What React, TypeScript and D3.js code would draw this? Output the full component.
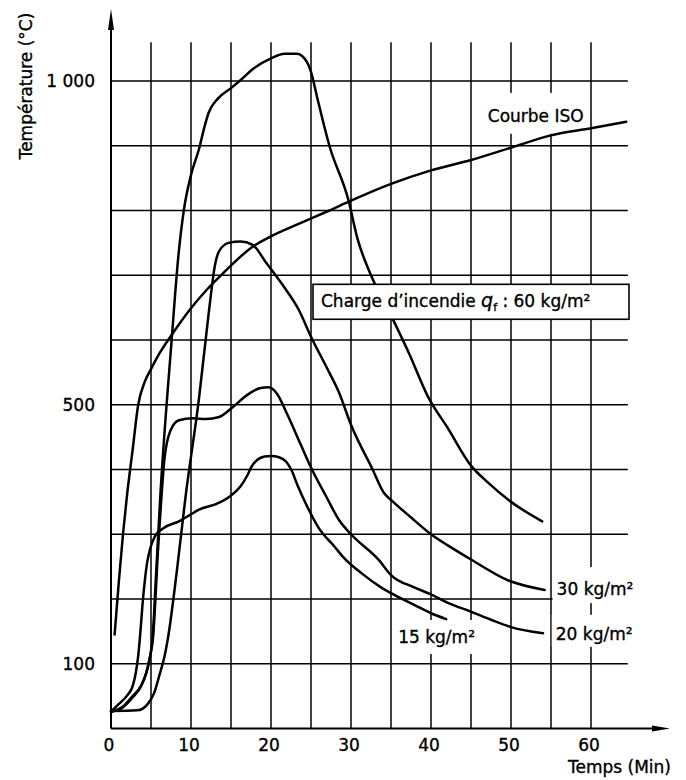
import React from 'react';
import * as d3 from 'd3';

const W = 686;
const H = 780;

// axis ticks
const xTicks = [0, 10, 20, 30, 40, 50, 60];
const yTicks = [100, 500, 1000];
const yTickLabels = ['100', '500', '1 000'];
const vGrid = [5, 10, 15, 20, 25, 30, 35, 40, 45, 50, 55, 60];
const hGrid = [100, 200, 300, 400, 500, 600, 700, 800, 900, 1000];

// curves: [time (min), temperature (°C)]
const iso: [number, number][] = [
  [0.45, 145], [1.0, 230], [1.5, 300], [2.0, 360], [2.7, 430], [3.4, 500], [4.2, 535],
  [5, 555], [6, 578], [7.7, 610], [9.8, 646], [12, 678], [14, 703], [17.7, 744],
  [20, 760], [23.6, 780], [27.3, 800], [29.8, 814], [35, 841], [40, 862], [45, 878],
  [50, 897], [55, 916], [60, 927], [64.4, 937],
];

const q60: [number, number][] = [
  [0, 26], [1.5, 33], [2.7, 48], [3.75, 65], [4.4, 85], [4.8, 105], [5.2, 140],
  [5.6, 230], [6.15, 356], [7.6, 603], [8.4, 727], [9.1, 800], [10, 855], [11, 895],
  [11.7, 930], [12.2, 951], [13.3, 972], [15, 989], [16.25, 1002], [17.9, 1020],
  [20, 1035], [21.7, 1042], [23.25, 1042], [24.5, 1029], [25, 1014], [25.8, 973],
  [27.3, 900], [29.7, 815], [30.8, 757], [32.5, 700], [35, 638], [37.3, 578],
  [39.6, 513], [42.1, 464], [45, 406], [47.1, 380], [50, 350], [53.9, 320],
];

const q30: [number, number][] = [
  [0, 27], [3.3, 28], [4.6, 38], [5.4, 55], [6.0, 80], [6.7, 112], [7.1, 138],
  [8.2, 240], [9.3, 356], [11, 510], [12.2, 640], [13, 716], [13.5, 737], [14.7, 750],
  [16.2, 752], [17.7, 747], [19.3, 721], [21.4, 686], [23.5, 646], [25, 605],
  [26.9, 559], [28.5, 519], [30, 469], [32.7, 400], [34.1, 364], [35.1, 352],
  [37.4, 327], [40, 300], [42.2, 282], [45, 261], [49.6, 229], [54.2, 214],
];

const q20: [number, number][] = [
  [0, 26], [1.5, 34], [2.7, 50], [3.75, 66], [4.4, 86], [4.8, 107], [5.25, 140],
  [5.9, 280], [6.7, 418], [7.4, 459], [8.5, 476], [10.2, 479], [11.9, 478],
  [13.5, 481], [15.2, 496], [16.9, 514], [18.7, 526], [19.7, 527], [20.75, 517],
  [22, 486], [23.7, 439], [25, 403], [27, 356], [28.5, 322], [30, 300], [33.5, 260],
  [35, 237], [37.9, 218], [40, 207], [42.1, 194], [44.9, 181], [47.5, 168],
  [49.9, 157], [54, 147],
];

const q15: [number, number][] = [
  [0, 26], [0.83, 36], [2.08, 52], [2.7, 65], [3.1, 86], [3.4, 112], [3.6, 138],
  [4.0, 200], [4.5, 255], [4.9, 278], [5.5, 297], [6.5, 309], [8.5, 320], [9.9, 330],
  [11, 338], [13.2, 347], [14.8, 358], [16.2, 374], [17.0, 390], [17.6, 405],
  [18.3, 415], [19.2, 420], [20, 421], [21, 419], [21.9, 412], [22.6, 398],
  [23.3, 376], [24.4, 346], [26, 309], [28, 280], [29, 265], [31.5, 238], [33.75, 218],
  [35, 209], [37.9, 191], [40, 178], [41.9, 169],
];

const series = [iso, q60, q30, q20, q15];

const FONT = "'DejaVu Sans', sans-serif";

export default function App() {
  const x = d3.scaleLinear().domain([0, 60]).range([111, 591]);
  const y = d3.scaleLinear().domain([0, 1000]).range([728.5, 81]);

  const line = d3
    .line<[number, number]>()
    .x((d) => x(d[0]))
    .y((d) => y(d[1]))
    .curve(d3.curveMonotoneX);

  const gridRight = x(64.6);
  const gridTop = y(1060);
  const x0 = x(0);
  const yBase = y(0);

  // label anchors (data coordinates)
  const isoLbl = { t: 47.1, T: 937 };
  const box = { t0: 25.25, t1: 64.75, T0: 686, T1: 632 };
  const lbl30 = { t: 55.7, T: 206 };
  const lbl20 = { t: 55.6, T: 137 };
  const lbl15 = { t: 35.9, T: 132 };

  const txt = { fill: '#000', stroke: '#000', strokeWidth: 0.35 };

  return (
    <svg
      width={W}
      height={H}
      viewBox={`0 0 ${W} ${H}`}
      style={{ position: 'absolute', left: 0, top: 0, background: '#fff' }}
      fontFamily={FONT}
    >
      <rect width={W} height={H} fill="#fff" />

      {/* grid */}
      <g stroke="#000" strokeWidth={1.5}>
        {vGrid.map((t) => (
          <line key={'v' + t} x1={x(t)} x2={x(t)} y1={gridTop} y2={yBase} />
        ))}
        {hGrid.map((v) => (
          <line key={'h' + v} x1={x0} x2={gridRight} y1={y(v)} y2={y(v)} />
        ))}
      </g>

      {/* gaps in the grid behind the labels */}
      <g fill="#fff">
        <rect x={x(isoLbl.t) - 8} y={y(isoLbl.T) - 29} width={104} height={41} />
        <rect x={x(lbl30.t) - 4} y={y(lbl30.T) - 28} width={90} height={36} />
        <rect x={x(lbl20.t) - 4} y={y(lbl20.T) - 25} width={90} height={32} />
        <rect x={x(lbl15.t) - 5} y={y(lbl15.T) - 23} width={87} height={34} />
      </g>

      {/* curves */}
      <g fill="none" stroke="#000" strokeWidth={2.5} strokeLinejoin="round" strokeLinecap="round">
        {series.map((s, i) => (
          <path key={i} d={line(s) || ''} />
        ))}
      </g>

      {/* axes */}
      <g stroke="#000" strokeWidth={2}>
        <line x1={x0} x2={x0} y1={yBase} y2={24} />
        <line x1={x0} x2={655} y1={yBase} y2={yBase} />
      </g>
      <path d={`M${x0},9 L${x0 - 3},30 L${x0 + 3},30 Z`} fill="#000" />
      <path d={`M670,${yBase} L652,${yBase - 3} L652,${yBase + 3} Z`} fill="#000" />

      {/* fire load box */}
      <rect
        x={x(box.t0)}
        y={y(box.T0)}
        width={x(box.t1) - x(box.t0)}
        height={y(box.T1) - y(box.T0)}
        fill="#fff"
        stroke="#000"
        strokeWidth={1.6}
      />
      <text x={x(box.t0) + 8} y={y(651)} fontSize={17} {...txt}>
        Charge d’incendie{' '}
        <tspan fontStyle="italic" fontSize={19}>q</tspan>
        <tspan fontSize={11} dy={4}>f</tspan>
        <tspan dy={-4}> : 60 kg/m²</tspan>
      </text>

      {/* labels */}
      <g fontSize={17} {...txt}>
        <text x={x(isoLbl.t)} y={y(isoLbl.T)}>Courbe ISO</text>
        <text x={x(lbl30.t)} y={y(lbl30.T)}>30 kg/m²</text>
        <text x={x(lbl20.t)} y={y(lbl20.T)}>20 kg/m²</text>
        <text x={x(lbl15.t)} y={y(lbl15.T)}>15 kg/m²</text>
      </g>

      {/* tick labels */}
      <g fontSize={17} textAnchor="middle" {...txt}>
        {xTicks.map((t) => (
          <text key={t} x={x(t) - 2} y={751}>
            {t}
          </text>
        ))}
      </g>
      <g fontSize={17} textAnchor="end" {...txt}>
        {yTicks.map((v, i) => (
          <text key={v} x={95} y={y(v)} dy="0.35em">
            {yTickLabels[i]}
          </text>
        ))}
      </g>

      <text x={671} y={773} fontSize={17} textAnchor="end" {...txt}>
        Temps (Min)
      </text>
      <text
        transform={`translate(32,${86}) rotate(-90)`}
        fontSize={17}
        textAnchor="middle"
        {...txt}
      >
        Température (°C)
      </text>
    </svg>
  );
}
